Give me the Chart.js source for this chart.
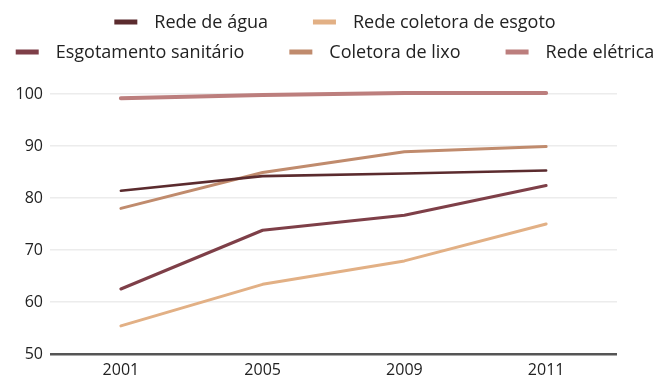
<!DOCTYPE html>
<html>
<head>
<meta charset="utf-8">
<script src="https://cdn.jsdelivr.net/npm/chart.js@4/dist/chart.umd.min.js"></script>
<style>
  html, body { margin: 0; padding: 0; background: #ffffff; }
  #wrap { width: 662px; height: 383px; position: relative; }
</style>
</head>
<body>
<div id="wrap"><canvas id="c"></canvas></div>
<script>
// Anos
const years = ['2001', '2005', '2009', '2011'];

// Percentual de domicílios atendidos por serviço
const redeAgua = [81.4, 84.2, 84.7, 85.3];
const redeColetoraEsgoto = [55.4, 63.4, 67.9, 75.0];
const esgotamentoSanitario = [62.5, 73.8, 76.7, 82.4];
const coletoraLixo = [78.0, 84.9, 88.9, 89.9];
const redeEletrica = [99.2, 99.8, 100.2, 100.2];

const yTicks = [50, 60, 70, 80, 90, 100];

const FONT = '"Open Sans", Lato, sans-serif';

// Legenda em duas linhas, desenhada no canvas
const legendRows = {
  id: 'legendRows',
  afterDraw(chart, args, opts) {
    const ctx = chart.ctx;
    const items = chart.data.datasets;
    ctx.save();
    ctx.font = opts.fontSize + 'px ' + FONT;
    ctx.textBaseline = 'middle';
    ctx.textAlign = 'left';
    opts.rows.forEach((row, r) => {
      const y = opts.top + r * opts.rowGap;
      const widths = row.map(i => opts.box + opts.textGap + ctx.measureText(items[i].label).width);
      const total = widths.reduce((a, b) => a + b, 0) + opts.itemGap * (row.length - 1);
      let x = opts.center - total / 2;
      row.forEach((i, k) => {
        ctx.fillStyle = items[i].borderColor;
        ctx.fillRect(x, y - 2.5, opts.box, 5);
        ctx.fillStyle = '#222222';
        ctx.fillText(items[i].label, x + opts.box + opts.textGap, y + 1);
        x += widths[k] + opts.itemGap;
      });
    });
    ctx.restore();
  }
};

new Chart(document.getElementById('c'), {
  type: 'line',
  data: {
    labels: years,
    datasets: [
      { label: 'Rede de água', data: redeAgua, borderColor: '#5b2b2e', borderWidth: 2.6 },
      { label: 'Rede coletora de esgoto', data: redeColetoraEsgoto, borderColor: '#e2b085', borderWidth: 3 },
      { label: 'Esgotamento sanitário', data: esgotamentoSanitario, borderColor: '#7e3f48', borderWidth: 3 },
      { label: 'Coletora de lixo', data: coletoraLixo, borderColor: '#c08b6d', borderWidth: 3 },
      { label: 'Rede elétrica', data: redeEletrica, borderColor: '#bc7e7d', borderWidth: 4 }
    ].map(d => Object.assign(d, {
      pointRadius: 0,
      pointHoverRadius: 0,
      fill: false,
      tension: 0,
      clip: false,
      borderCapStyle: 'round',
      borderJoinStyle: 'round'
    }))
  },
  options: {
    responsive: true,
    maintainAspectRatio: false,
    animation: false,
    layout: { padding: { top: 94, right: 45, left: 0, bottom: 0 } },
    plugins: {
      legend: { display: false },
      tooltip: { enabled: false },
      legendRows: { rows: [[0, 1], [2, 3, 4]], top: 22, rowGap: 30, center: 335, box: 23, textGap: 17, itemGap: 45, fontSize: 18 }
    },
    scales: {
      x: {
        offset: true,
        grid: { display: false, drawTicks: false },
        border: { display: false },
        ticks: { color: '#222222', font: { family: FONT, size: 16 }, padding: 7, maxRotation: 0 },
        afterFit(s) { s.height = 29; }
      },
      y: {
        min: 50,
        max: 100,
        afterBuildTicks(s) { s.ticks = yTicks.map(v => ({ value: v })); },
        grid: {
          drawTicks: false,
          color: c => c.tick && c.tick.value === 50 ? '#555555' : '#ececec',
          lineWidth: c => c.tick && c.tick.value === 50 ? 2.5 : 1.5
        },
        border: { display: false },
        ticks: { color: '#222222', font: { family: FONT, size: 16 }, padding: 7 },
        afterFit(s) { s.width = 50; }
      }
    }
  },
  plugins: [legendRows]
});
</script>
</body>
</html>
